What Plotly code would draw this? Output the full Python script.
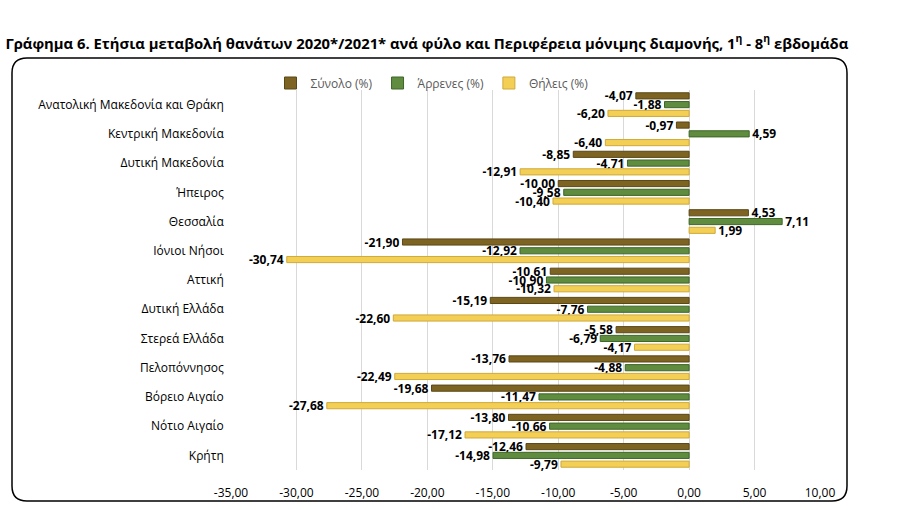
import plotly.graph_objects as go

regions = ["Ανατολική Μακεδονία και Θράκη", "Κεντρική Μακεδονία", "Δυτική Μακεδονία",
           "Ήπειρος", "Θεσσαλία", "Ιόνιοι Νήσοι", "Αττική", "Δυτική Ελλάδα",
           "Στερεά Ελλάδα", "Πελοπόννησος", "Βόρειο Αιγαίο", "Νότιο Αιγαίο", "Κρήτη"]
total = [-4.07, -0.97, -8.85, -10.00, 4.53, -21.90, -10.61, -15.19, -5.58, -13.76, -19.68, -13.80, -12.46]
men = [-1.88, 4.59, -4.71, -9.58, 7.11, -12.92, -10.90, -7.76, -6.79, -4.88, -11.47, -10.66, -14.98]
women = [-6.20, -6.40, -12.91, -10.40, 1.99, -30.74, -10.32, -22.60, -4.17, -22.49, -27.68, -17.12, -9.79]
tick_vals = [-35, -30, -25, -20, -15, -10, -5, 0, 5, 10]
tick_text = ["-35,00", "-30,00", "-25,00", "-20,00", "-15,00", "-10,00", "-5,00", "0,00", "5,00", "10,00"]

series = [
    ("Σύνολο (%)", total, "#7E6423", "#5A4716"),
    ("Άρρενες (%)", men, "#5F8C3F", "#3E6628"),
    ("Θήλεις (%)", women, "#F3CF55", "#CFA93A"),
]

W, H = 897, 510
L, R, T, B = 231, 77, 90, 40

fig = go.Figure()
for name, vals, col, lcol in series:
    fig.add_trace(go.Bar(
        y=regions, x=vals, name=name, orientation="h",
        marker=dict(color=col, line=dict(color=lcol, width=1)),
        text=[f"{v:.2f}".replace(".", ",") for v in vals],
        textposition="outside", constraintext="none", cliponaxis=False,
        textfont=dict(family="Open Sans", size=12, color="#000000", weight="bold"),
    ))

pw = W - L - R
ph = H - T - B

def px2paper(x, y):
    return (x - L) / pw, (H - B - y) / ph

x0, y0, x1, y1, r = 12, 58, 847, 501, 15
pts = {
    "a": px2paper(x0 + r, y0), "b": px2paper(x1 - r, y0), "c": px2paper(x1, y0),
    "d": px2paper(x1, y0 + r), "e": px2paper(x1, y1 - r), "f": px2paper(x1, y1),
    "g": px2paper(x1 - r, y1), "h": px2paper(x0 + r, y1), "i": px2paper(x0, y1),
    "j": px2paper(x0, y1 - r), "k": px2paper(x0, y0 + r), "l": px2paper(x0, y0),
}
p = lambda k: f"{pts[k][0]:.5f},{pts[k][1]:.5f}"
path = (f"M {p('a')} L {p('b')} Q {p('c')} {p('d')} L {p('e')} Q {p('f')} {p('g')} "
        f"L {p('h')} Q {p('i')} {p('j')} L {p('k')} Q {p('l')} {p('a')} Z")

fig.update_layout(
    width=W, height=H,
    margin=dict(l=L, r=R, t=T, b=B),
    paper_bgcolor="white", plot_bgcolor="white",
    barmode="group", bargap=0.1, bargroupgap=0.3,
    font=dict(family="Open Sans", color="#000000"),
    title=dict(
        text="<b>Γράφημα 6. Ετήσια μεταβολή θανάτων 2020*/2021* ανά φύλο και Περιφέρεια μόνιμης διαμονής, 1<sup>η</sup> - 8<sup>η</sup> εβδομάδα</b>",
        x=0.006, xanchor="left", xref="container", y=0.915, yanchor="middle",
        font=dict(family="Open Sans", size=14.8, color="#000000"),
    ),
    legend=dict(orientation="h", x=(432 - L) / pw, xanchor="center",
                y=(H - B - 83) / ph, yanchor="middle",
                font=dict(family="Open Sans", size=12, color="#595959"),
                itemwidth=30, tracegroupgap=0, bgcolor="rgba(0,0,0,0)"),
    xaxis=dict(range=[-35, 10], tickvals=tick_vals, ticktext=tick_text,
               showgrid=True, gridcolor="#D9D9D9", gridwidth=1, zeroline=False,
               showline=False, ticks="", ticklabelstandoff=14, automargin=False,
               tickfont=dict(family="Open Sans", size=12, color="#000000")),
    yaxis=dict(autorange="reversed", showgrid=False, showline=False, ticks="",
               automargin=False,
               ticksuffix="  ", tickfont=dict(family="Open Sans", size=12, color="#000000")),
    shapes=[dict(type="path", xref="paper", yref="paper", path=path,
                 line=dict(color="#000000", width=1.5), layer="below")],
)

fig.write_html("out.html")
